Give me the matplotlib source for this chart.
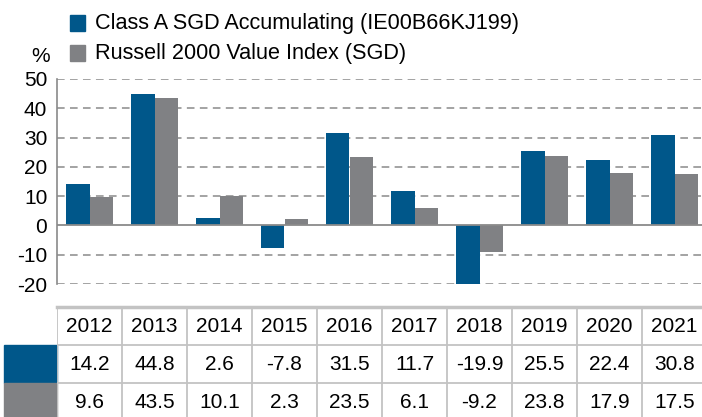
import matplotlib.pyplot as plt
from matplotlib.patches import Rectangle

years = ["2012", "2013", "2014", "2015", "2016", "2017", "2018", "2019", "2020", "2021"]
fund = [14.2, 44.8, 2.6, -7.8, 31.5, 11.7, -19.9, 25.5, 22.4, 30.8]
index = [9.6, 43.5, 10.1, 2.3, 23.5, 6.1, -9.2, 23.8, 17.9, 17.5]
fund_label = "Class A SGD Accumulating (IE00B66KJ199)"
index_label = "Russell 2000 Value Index (SGD)"
y_ticks = [50, 40, 30, 20, 10, 0, -10, -20]

BLUE = "#00578a"
GREY = "#808184"
LINE = "#c3c3c3"

plt.rcParams["font.family"] = ["Liberation Sans", "DejaVu Sans"]
plt.rcParams["axes.unicode_minus"] = False

W, H = 702, 417
fig = plt.figure(figsize=(W / 100, H / 100), dpi=100)

# pixel geometry
left_px, right_px = 57, 702
col_px = 65
top_px, bot_px = 79, 284
xmax = -0.5 + (right_px - left_px) / col_px

ax = fig.add_axes([left_px / W, 1 - bot_px / H, (right_px - left_px) / W, (bot_px - top_px) / H])
x = list(range(len(years)))
bw = 0.355
ax.bar([i - bw / 2 for i in x], fund, bw, color=BLUE, zorder=3)
ax.bar([i + bw / 2 for i in x], index, bw, color=GREY, zorder=3)
ax.set_xlim(-0.5, xmax)
ax.set_ylim(-20, 50)
ax.set_yticks(y_ticks)
ax.tick_params(axis="y", length=0, labelsize=15, pad=7)
ax.set_xticks([])
for t in y_ticks:
    if t == 0:
        ax.axhline(0, color="#8a8a8a", lw=1.3, zorder=4)
    else:
        ax.axhline(t, color="#8a8a8a", lw=1.1, ls=(0, (5, 3.5)), zorder=1)
for s in ["top", "right", "bottom"]:
    ax.spines[s].set_visible(False)
ax.spines["left"].set_color("#8a8a8a")
ax.spines["left"].set_linewidth(1.2)

fig.text(41 / W, 1 - 57 / H, "%", fontsize=15, ha="center", va="center")

# legend
for k, (lab, col) in enumerate([(fund_label, BLUE), (index_label, GREY)]):
    yc = 23 + k * 30
    fig.patches.append(Rectangle((70 / W, 1 - (yc + 8) / H), 15 / W, 16 / H,
                                 transform=fig.transFigure, color=col))
    fig.text(95 / W, 1 - yc / H, lab, fontsize=15.6, va="center", ha="left")

# data table below
tab_top = 307
row_h = 38
tax = fig.add_axes([left_px / W, 0, (right_px - left_px) / W, (H - tab_top) / H])
tax.set_xlim(-0.5, xmax)
tax.set_ylim((H - tab_top) / row_h, 0)
tax.axis("off")
tax.axhline(0, color=LINE, lw=2.5, clip_on=False)
tax.axhline(1, color=LINE, lw=1.3)
tax.axhline(2, color=LINE, lw=1.3)
for i in range(len(years) + 1):
    tax.axvline(i - 0.5, color=LINE, lw=1.3)
for i, yr in enumerate(years):
    tax.text(i, 0.5, yr, ha="center", va="center", fontsize=15)
    tax.text(i, 1.5, f"{fund[i]:.1f}", ha="center", va="center", fontsize=15)
    tax.text(i, 2.5, f"{index[i]:.1f}", ha="center", va="center", fontsize=15)
lab_w = 53 / col_px
tax.add_patch(Rectangle((-0.5 - lab_w, 1), lab_w, 1, color=BLUE, clip_on=False))
tax.add_patch(Rectangle((-0.5 - lab_w, 2), lab_w, 1, color=GREY, clip_on=False))

fig.savefig("out.png", dpi=100)
